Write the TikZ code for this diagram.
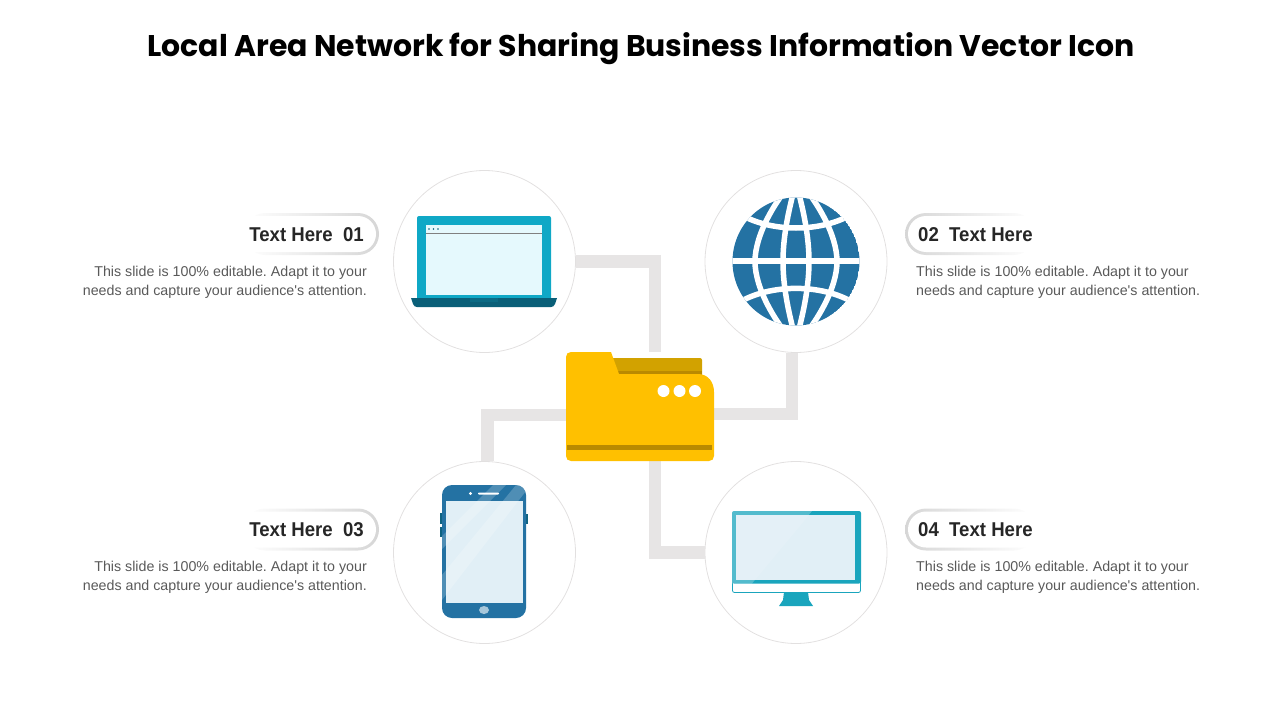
\documentclass[tikz,border=0pt]{standalone}
\usepackage{fontspec}
\setmainfont{Liberation Sans}
\newfontfamily\labelfont[FakeStretch=0.93]{Liberation Sans}
\newfontfamily\titlefont{Poppins}
\usetikzlibrary{positioning}
\frenchspacing

\definecolor{linkgray}{HTML}{E7E5E5}
\definecolor{ringgray}{HTML}{E2E0E0}
\definecolor{pillgray}{HTML}{D6D6D6}
\definecolor{bodygray}{HTML}{595959}
\definecolor{inkdark}{HTML}{262626}
\definecolor{globeblue}{HTML}{2472A3}
\definecolor{tealbody}{HTML}{0FA8C6}
\definecolor{tealdark}{HTML}{0A5F78}
\definecolor{tealscreen}{HTML}{E5F9FD}
\definecolor{monteal}{HTML}{1AA5BD}
\definecolor{paleblue}{HTML}{E1EFF6}
\definecolor{folderyellow}{HTML}{FFC000}
\definecolor{folderback}{HTML}{D2A200}
\definecolor{folderdark}{HTML}{B98A00}

\tikzset{
    iconcircle/.style = {circle, draw = ringgray, line width = 0.8pt, minimum size = 182pt, inner sep = 0pt},
    linkline/.style = {linkgray, line width = 12.5pt},
    pillleft/.style = {rounded corners = 21pt, left color = white, right color = pillgray, minimum width = 135pt, minimum height = 42pt, inner sep = 0pt},
    pillright/.style = {rounded corners = 21pt, right color = white, left color = pillgray, minimum width = 130pt, minimum height = 42pt, inner sep = 0pt},
    pillhole/.style = {rounded corners = 18pt, fill = white, minimum width = 140pt, minimum height = 36pt, inner sep = 0pt},
    headtext/.style = {inkdark, font = \labelfont\bfseries\fontsize{20}{24}\selectfont, inner sep = 0pt},
    bodytext/.style = {bodygray, font = \fontsize{14.25}{19}\selectfont, inner sep = 0pt},
    globeline/.style = {white, line width = 5.5pt, line join = miter}
}

\begin{document}
\begin{tikzpicture}[x = 1pt, y = -1pt]
    \useasboundingbox (0,0) rectangle (1280,720);

    \node[font = \titlefont\bfseries\fontsize{29.9}{36}\selectfont, inner sep = 0pt] (title) at (641,49) {Local Area Network for Sharing Business Information Vector Icon};

    \node[iconcircle] (laptop) at (484.5,261.5) {};
    \node[iconcircle] (globe) at (796,261.5) {};
    \node[iconcircle] (phone) at (484.5,552.5) {};
    \node[iconcircle] (monitor) at (796,552.5) {};
    \node[minimum width = 148pt, minimum height = 109pt, inner sep = 0pt] (folder) at (640,406.5) {};

    \draw[linkline] (laptop.east) -| ([xshift = 15pt]folder.north);
    \draw[linkline] ([xshift = -4pt]globe.south) |- ([yshift = -7.5pt]folder.east);
    \draw[linkline] ([xshift = 3pt]phone.north) |- ([yshift = -8.5pt]folder.west);
    \draw[linkline] ([xshift = 15pt]folder.south) |- (monitor.west);

    \fill[folderback, rounded corners = 2pt] (605,358) rectangle (702,380);
    \fill[folderdark] (612,371) rectangle (702,380);
    \fill[folderyellow] (571,352) -- (611,352) -- (619,374) -- (698,374) .. controls (708,374) and (714,382) .. (714,392) -- (714,456) .. controls (714,459) and (712,461) .. (709,461) -- (571,461) .. controls (568,461) and (566,459) .. (566,456) -- (566,357) .. controls (566,354) and (568,352) .. (571,352) -- cycle;
    \fill[folderdark] (567,445) rectangle (712,450);
    \fill[white] (663.5,391) circle (6);
    \fill[white] (679.5,391) circle (6);
    \fill[white] (695,391) circle (6);

    \fill[tealbody, rounded corners = 2pt] (417,216) rectangle (551,300);
    \fill[tealscreen] (426,225) rectangle (542,295);
    \draw[gray, line width = 0.8pt] (426,233.5) -- (542,233.5);
    \fill[tealdark] (429,229) circle (0.9);
    \fill[tealdark] (433.5,229) circle (0.9);
    \fill[tealdark] (438,229) circle (0.9);
    \fill[tealdark] (411,298) -- (557,298) -- (555,304) .. controls (554,306) and (553,307) .. (551,307) -- (417,307) .. controls (415,307) and (414,306) .. (413,304) -- cycle;
    \fill[tealdark!85!tealbody] (470,298) rectangle (498,302);

    \begin{scope}
        \clip (796,261.5) ellipse [x radius = 63.5, y radius = 64];
        \fill[globeblue] (796,261.5) ellipse [x radius = 63.5, y radius = 64];
        \draw[globeline] (796,178) .. controls (817,200) and (837,235) .. (837,261.5) .. controls (837,288) and (817,323) .. (796,345) .. controls (775,323) and (755,288) .. (755,261.5) .. controls (755,235) and (775,200) .. cycle;
        \draw[globeline] (796,183) .. controls (805,215) and (809,240) .. (809,261.5) .. controls (809,283) and (805,308) .. (796,340) .. controls (787,308) and (783,283) .. (783,261.5) .. controls (783,240) and (787,215) .. cycle;
        \draw[globeline, line width = 6pt] (730,261) -- (862,261);
        \draw[globeline] (738,213) .. controls (770,233) and (822,233) .. (854,213);
        \draw[globeline] (738,303) .. controls (770,283.5) and (822,283.5) .. (854,303);
    \end{scope}

    \fill[tealdark!80!globeblue] (440,513) rectangle (443,524);
    \fill[tealdark!80!globeblue] (440,527) rectangle (443,537);
    \fill[tealdark!80!globeblue] (525,514) rectangle (528,524);
    \fill[globeblue, rounded corners = 10pt] (442,485) rectangle (526,618);
    \fill[paleblue] (446,501) rectangle (523,603);
    \begin{scope}
        \clip[rounded corners = 10pt] (442,485) rectangle (526,618);
        \fill[white, opacity = 0.2] (493,485) -- (506,485) -- (442,549) -- (442,536) -- cycle;
        \fill[white, opacity = 0.2] (516,485) -- (526,485) -- (526,491) -- (442,600) -- (442,575) -- cycle;
    \end{scope}
    \fill[white] (470.5,493.5) circle (1.6);
    \fill[white, rounded corners = 0.8pt] (478,492.5) rectangle (499,494.5);
    \fill[white!60!globeblue] (484,610) ellipse [x radius = 5, y radius = 4];

    \fill[monteal] (784,592) -- (808,592) -- (809,600) -- (813,606) -- (779,606) -- (783,600) -- cycle;
    \fill[white, draw = monteal, line width = 0.8pt, rounded corners = 2pt] (732.5,575) rectangle (860.5,592.5);
    \fill[monteal, rounded corners = 2pt] (732,511) -- (861,511) -- (861,583.5) -- (732,583.5) -- cycle;
    \fill[white, opacity = 0.25] (732,511) -- (812,511) -- (752,583.5) -- (732,583.5) -- cycle;
    \fill[paleblue] (736,515) rectangle (855,580);
    \fill[white, opacity = 0.12] (736,515) -- (809,515) -- (755,580) -- (736,580) -- cycle;

    \node[pillleft] (pillone) at (311.5,234) {};
    \node[pillhole] (holeone) at (306,234) {};
    \node[pillright] (pilltwo) at (970,234) {};
    \node[pillhole] (holetwo) at (978,234) {};
    \node[pillleft] (pillthree) at (311.5,529.5) {};
    \node[pillhole] (holethree) at (306,529.5) {};
    \node[pillright] (pillfour) at (970,529.5) {};
    \node[pillhole] (holefour) at (978,529.5) {};

    \node[headtext, anchor = east] (headone) at (364,235) {Text Here\ \ 01};
    \node[headtext, anchor = west] (headtwo) at (918,235) {02\ \ Text Here};
    \node[headtext, anchor = east] (headthree) at (364,530) {Text Here\ \ 03};
    \node[headtext, anchor = west] (headfour) at (918,530) {04\ \ Text Here};

    \node[bodytext, anchor = east, align = right] (bodyone) at (367,282) {This slide is 100\% editable. Adapt it to your\\needs and capture your audience\textquotesingle s attention.};
    \node[bodytext, anchor = west, align = left] (bodytwo) at (916,282) {This slide is 100\% editable. Adapt it to your\\needs and capture your audience\textquotesingle s attention.};
    \node[bodytext, anchor = east, align = right] (bodythree) at (367,577) {This slide is 100\% editable. Adapt it to your\\needs and capture your audience\textquotesingle s attention.};
    \node[bodytext, anchor = west, align = left] (bodyfour) at (916,577) {This slide is 100\% editable. Adapt it to your\\needs and capture your audience\textquotesingle s attention.};
\end{tikzpicture}
\end{document}
